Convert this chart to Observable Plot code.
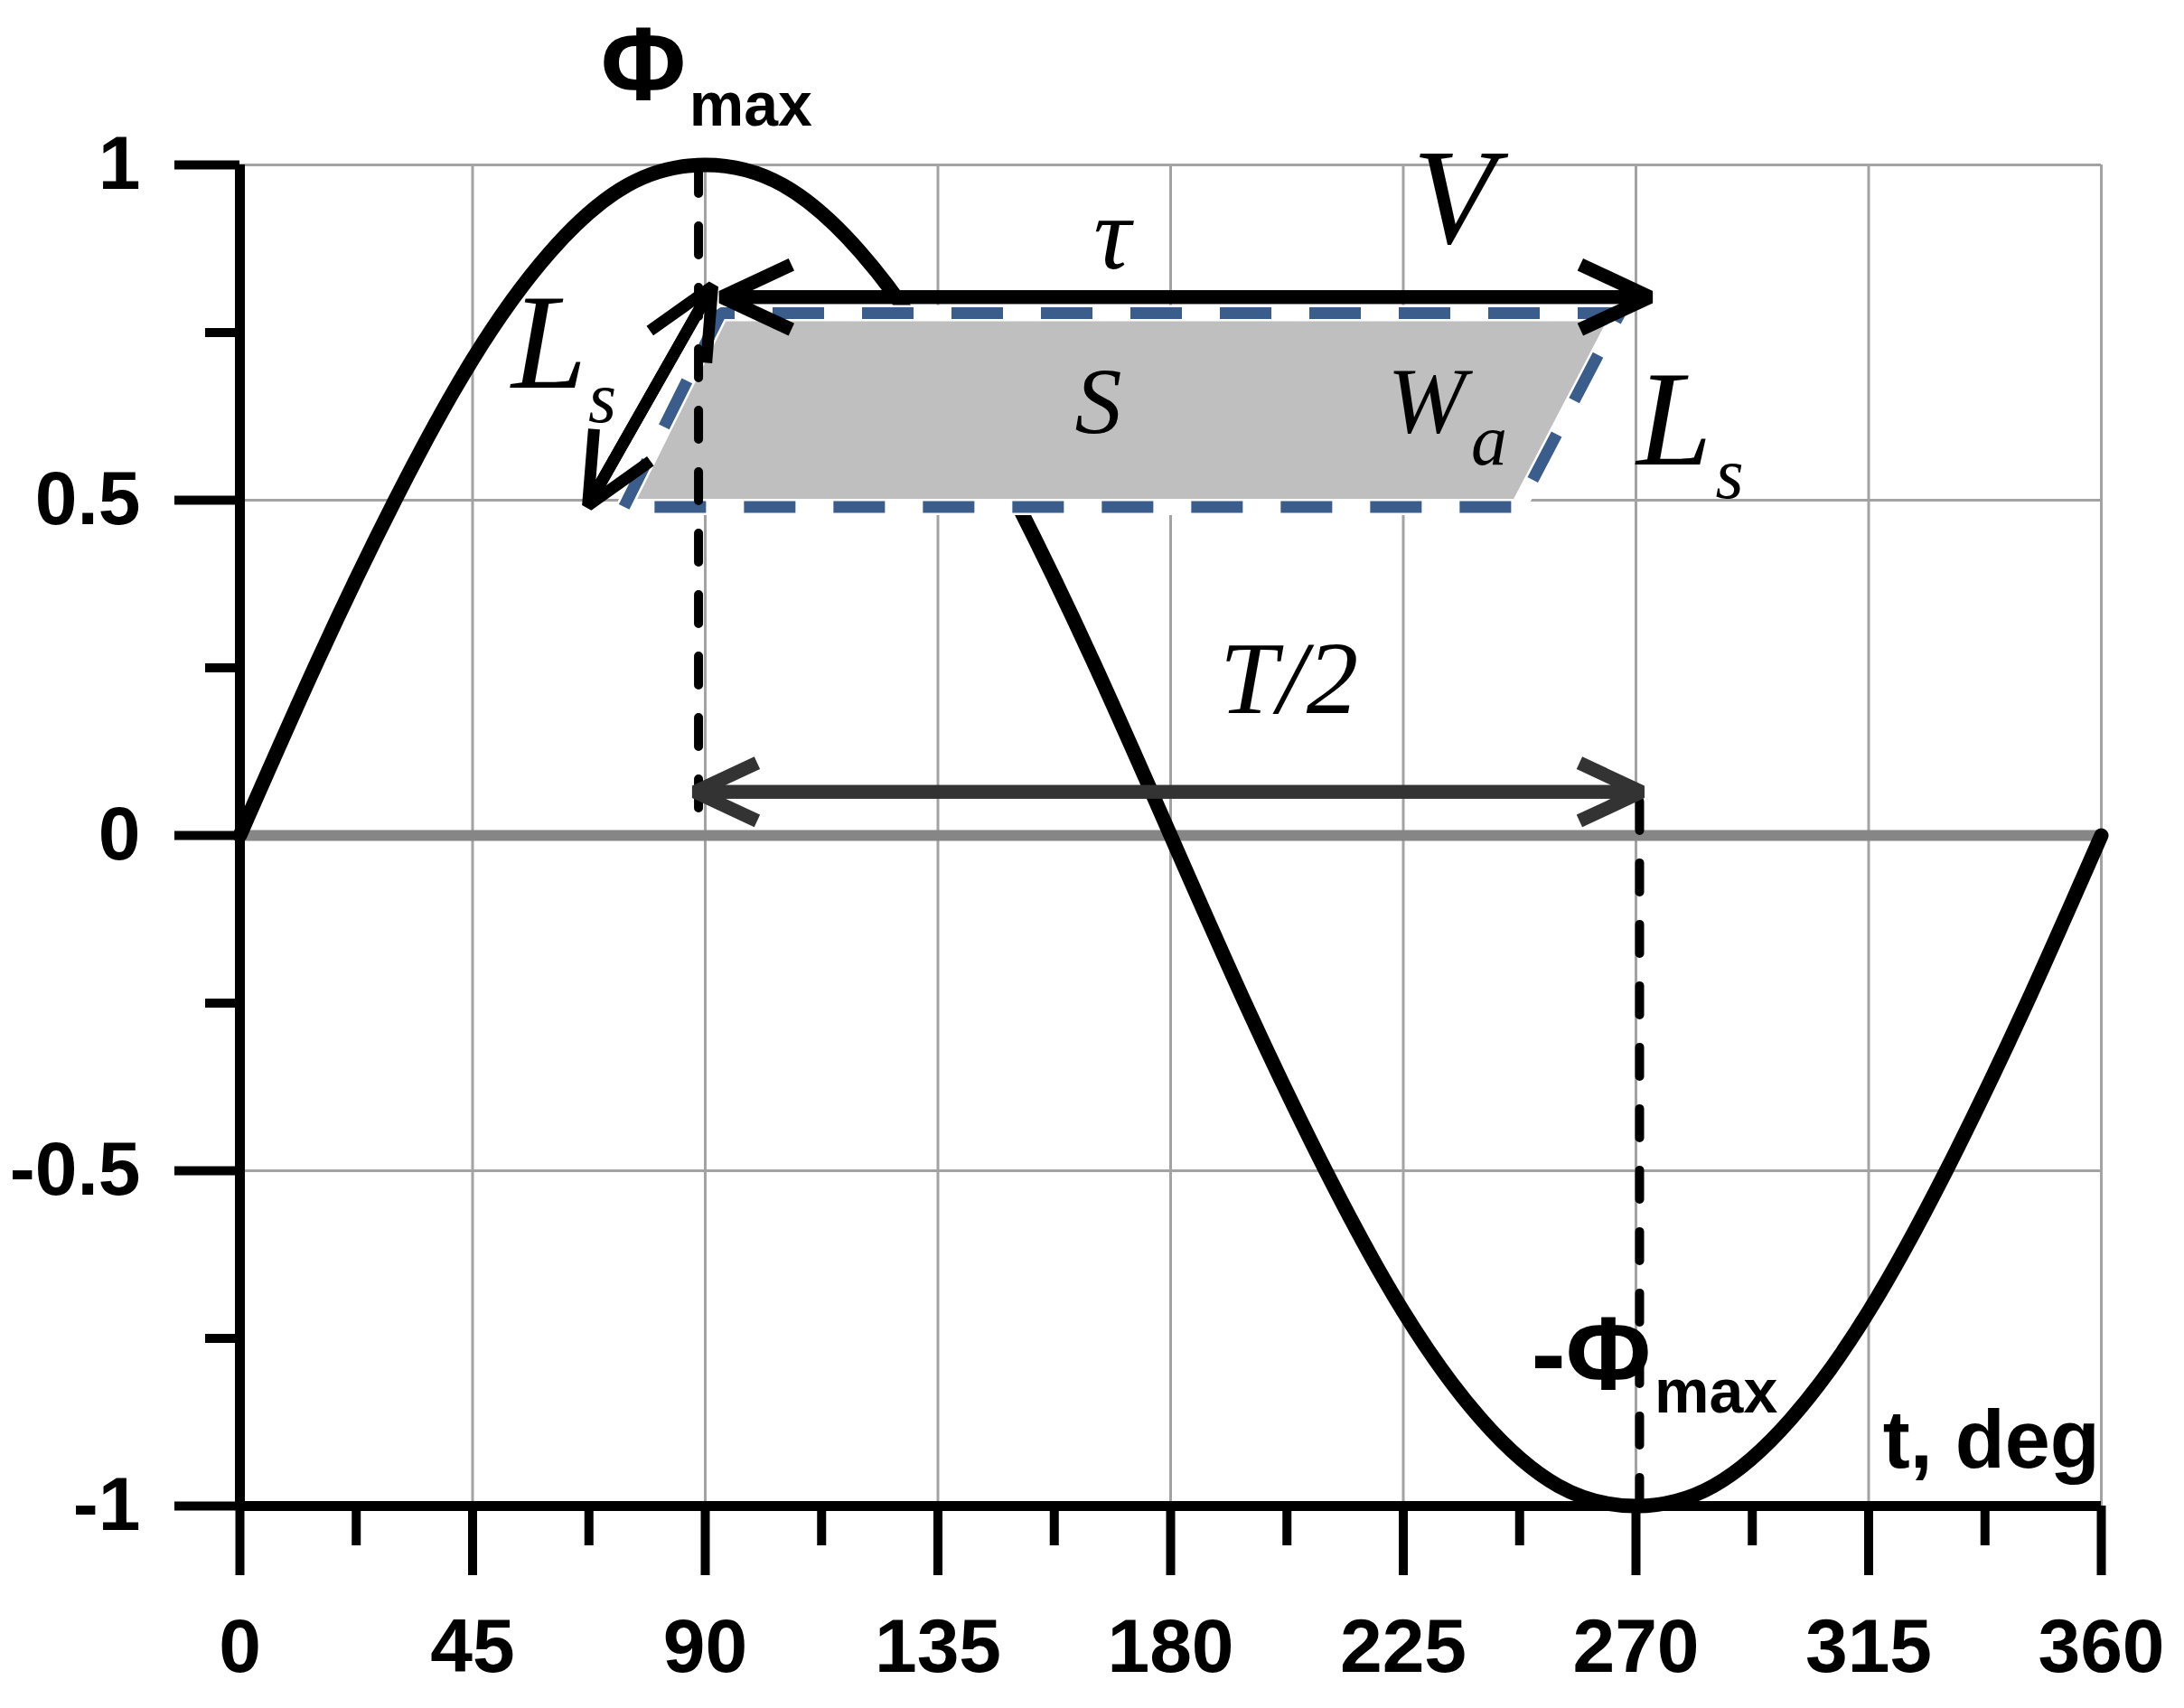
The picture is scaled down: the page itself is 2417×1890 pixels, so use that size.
<!DOCTYPE html>
<html>
<head>
<meta charset="utf-8">
<script src="https://cdn.jsdelivr.net/npm/d3@7"></script>
<script src="https://cdn.jsdelivr.net/npm/@observablehq/plot@0.6"></script>
<style>
  html, body { margin: 0; padding: 0; background: #ffffff; }
  svg { display: block; }
</style>
</head>
<body>
<script>
// ---- data ----
const xMajorTicks = [0, 45, 90, 135, 180, 225, 270, 315, 360];
const xMinorTicks = [22.5, 67.5, 112.5, 157.5, 202.5, 247.5, 292.5, 337.5];
const yMajorTicks = [-1, -0.5, 0, 0.5, 1];
const yMajorLabels = ["-1", "-0.5", "0", "0.5", "1"];
const yMinorTicks = [-0.75, -0.25, 0.25, 0.75];
const xGridLines = [45, 90, 135, 180, 225, 270, 315, 360];
const yGridLines = [-0.5, 0.5, 1];

// flux curve (deg, relative flux)
const curveT = [0, 15, 30, 45, 60, 75, 90, 105, 120, 135, 150, 165, 180,
                195, 210, 225, 240, 255, 270, 285, 300, 315, 330, 345, 360];
const curveV = [0, 0.26, 0.5, 0.71, 0.87, 0.97, 1, 0.97, 0.87, 0.71, 0.5, 0.26, 0,
                -0.26, -0.5, -0.71, -0.87, -0.97, -1, -0.97, -0.87, -0.71, -0.5, -0.26, 0];

// shaded parallelogram S (corners)
const shadeT = [74.3, 93.0, 266.9, 247.3];
const shadeV = [0.49, 0.779, 0.779, 0.49];

// double-headed arrows
const arrowNames = ["tau", "Ls", "T/2"];
const arrowT1 = [93.2, 67.3, 88.0];
const arrowV1 = [0.803, 0.492, 0.065];
const arrowT2 = [272.7, 91.4, 271.1];
const arrowV2 = [0.803, 0.819, 0.065];

// dashed guide lines
const guideT = [88.7, 270.7];
const guideV1 = [1.0, 0.05];
const guideV2 = [0.01, -1.0];

// annotation texts
const labelText = ["Φ", "max", "-Φ", "max", "t, deg", "τ", "V", "S", "W", "a", "L", "s", "L", "s", "T/2"];
const labelT    = [78, 86.9, 272.9, 273.6, 359.7, 168.7, 234.8, 166.0, 229.5, 241.6, 59.8, 70.1, 277.4, 288.1, 202.9];
const labelV    = [1.098, 1.058, -0.825, -0.860, -0.943, 0.846, 0.883, 0.600, 0.602, 0.553, 0.668, 0.617, 0.553, 0.503, 0.183];
const labelRole = ["phi", "sub", "phiEnd", "sub", "axisTitle", "sym", "symBig", "symMid", "symMid", "symSub", "symBig", "symSub", "symBig", "symSub", "sym"];

// ---- build tables ----
const curve = curveT.map((t, i) => ({t, v: curveV[i]}));
const shade = shadeT.map((t, i) => ({t, v: shadeV[i]}));
const arrows = arrowNames.map((n, i) => ({n, t1: arrowT1[i], v1: arrowV1[i], t2: arrowT2[i], v2: arrowV2[i]}));
const guides = guideT.map((t, i) => ({t, v1: guideV1[i], v2: guideV2[i]}));
const labels = labelText.map((text, i) => ({text, t: labelT[i], v: labelV[i], role: labelRole[i]}));

const SANS = "'Liberation Sans', Arial, Helvetica, sans-serif";
const SERIF = "'Liberation Serif', 'Times New Roman', serif";
const roleStyle = {
  phi:       {fontFamily: SANS, fontWeight: "bold", fontSize: 115, textAnchor: "middle"},
  phiEnd:    {fontFamily: SANS, fontWeight: "bold", fontSize: 115, textAnchor: "end"},
  sub:       {fontFamily: SANS, fontWeight: "bold", fontSize: 68, textAnchor: "start"},
  axisTitle: {fontFamily: SANS, fontWeight: "bold", fontSize: 90, textAnchor: "end"},
  symBig:    {fontFamily: SERIF, fontStyle: "italic", fontSize: 150, textAnchor: "middle"},
  sym:       {fontFamily: SERIF, fontStyle: "italic", fontSize: 115, textAnchor: "middle"},
  symMid:    {fontFamily: SERIF, fontStyle: "italic", fontSize: 104, textAnchor: "middle"},
  symSub:    {fontFamily: SERIF, fontStyle: "italic", fontSize: 80, textAnchor: "middle"}
};

const labelMarks = Object.keys(roleStyle).map(role =>
  Plot.text(labels.filter(d => d.role === role), {
    x: "t", y: "v", text: "text", lineAnchor: "bottom", fill: "black", ...roleStyle[role]
  })
);

const arrowHead = {tau: 8.5, "Ls": 9.8, "T/2": 7.6};
const arrowColor = {tau: "black", "Ls": "black", "T/2": "#333333"};
const arrowWidth = {tau: 15, "Ls": 13, "T/2": 15};
const arrowMarks = arrows.flatMap(a => [
  Plot.arrow([a], {x1: "t1", y1: "v1", x2: "t2", y2: "v2", stroke: arrowColor[a.n], strokeWidth: arrowWidth[a.n],
    headLength: arrowHead[a.n], headAngle: 50, strokeLinejoin: "miter", strokeLinecap: "butt"}),
  Plot.arrow([a], {x1: "t2", y1: "v2", x2: "t1", y2: "v1", stroke: arrowColor[a.n], strokeWidth: arrowWidth[a.n],
    headLength: arrowHead[a.n], headAngle: 50, strokeLinejoin: "miter", strokeLinecap: "butt"})
]);

const yLabel = d => yMajorLabels[yMajorTicks.indexOf(d)];

const chart = Plot.plot({
  width: 2417,
  height: 1890,
  marginLeft: 265,
  marginRight: 92,
  marginTop: 182,
  marginBottom: 224,
  x: {domain: [0, 360]},
  y: {domain: [-1, 1]},
  style: {fontFamily: SANS, color: "black", background: "white", overflow: "visible"},
  marks: [
    Plot.gridX(xGridLines, {stroke: "#a3a3a3", strokeOpacity: 1, strokeWidth: 3}),
    Plot.gridY(yGridLines, {stroke: "#a3a3a3", strokeOpacity: 1, strokeWidth: 3}),
    Plot.ruleY([0], {x1: 0, x2: 360, stroke: "#868686", strokeWidth: 12}),
    Plot.line(curve, {x: "t", y: "v", curve: "natural", stroke: "black", strokeWidth: 16, strokeLinecap: "round"}),
    Plot.line(shade, {x: "t", y: "v", curve: "linear-closed", fill: "#bfbfbf", stroke: "white", strokeWidth: 18, strokeLinejoin: "miter"}),
    Plot.line(shade, {x: "t", y: "v", curve: "linear-closed", stroke: "#3b5d8b", strokeWidth: 13,
      strokeDasharray: "57,42", strokeLinecap: "butt", strokeLinejoin: "miter"}),
    Plot.ruleX(guides, {x: "t", y1: "v1", y2: "v2", stroke: "black", strokeWidth: 10,
      strokeDasharray: "32,36", strokeLinecap: "round"}),
    ...arrowMarks,
    Plot.ruleX([0], {y1: -1, y2: 1, stroke: "black", strokeWidth: 11}),
    Plot.ruleY([-1], {x1: 0, x2: 360, stroke: "black", strokeWidth: 11}),
    Plot.axisX(xMajorTicks, {tickSize: 77, tickPadding: 47, strokeWidth: 10, fontSize: 84, fontWeight: "bold",
      tickFormat: d => String(d), label: null}),
    Plot.axisX(xMinorTicks, {tickSize: 44, strokeWidth: 10, tickFormat: () => "", label: null}),
    Plot.axisY(yMajorTicks, {tickSize: 72, tickPadding: 38, strokeWidth: 10, fontSize: 84, fontWeight: "bold",
      tickFormat: yLabel, label: null}),
    Plot.axisY(yMinorTicks, {tickSize: 38, strokeWidth: 10, tickFormat: () => "", label: null}),
    ...labelMarks
  ]
});
document.body.appendChild(chart);
</script>
</body>
</html>
